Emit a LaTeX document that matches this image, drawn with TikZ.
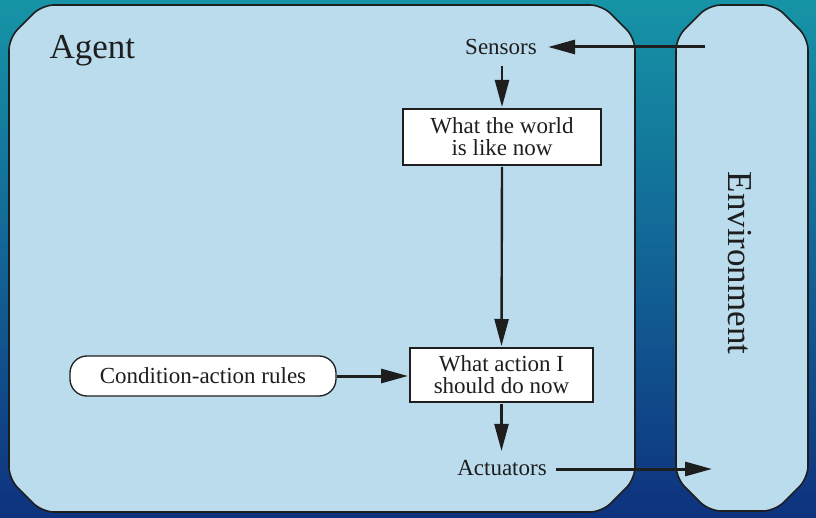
\documentclass[tikz,border=0pt]{standalone}
\usepackage{fontspec}
\setmainfont{Liberation Serif}
\usetikzlibrary{arrows.meta}
\definecolor{panel}{RGB}{187,220,236}
\definecolor{bgtop}{RGB}{22,148,166}
\definecolor{bgmid}{RGB}{18,100,150}
\definecolor{bgbot}{RGB}{14,50,126}
\definecolor{ink}{RGB}{30,30,30}
\tikzset{
  panelbox/.style={draw=ink, line width=1.6pt, fill=panel, rounded corners=12pt},
  procbox/.style={draw=ink, line width=1.3pt, fill=white, align=center, inner sep=0pt},
  rulebox/.style={draw=ink, line width=1.3pt, fill=white, rounded corners=17pt, inner sep=0pt},
  lbl/.style={text=ink, font=\rmfamily\fontsize{23}{23}\selectfont},
  big/.style={text=ink, font=\rmfamily\fontsize{35}{35}\selectfont},
  flow/.style={draw=ink, line width=2.4pt, -{Triangle[length=27pt,width=14pt]}},
  hflow/.style={flow, line width=3pt},
}
\begin{document}
\begin{tikzpicture}[x=1pt,y=-1pt]
\useasboundingbox (0,0) rectangle (816,518);
\shade[top color=bgtop, bottom color=bgbot, middle color=bgmid] (0,0) rectangle (816,518);
% Agent panel
\path[panelbox] (9,38) -- (42,5) -- (602,5) -- (635,38) -- (635,479) -- (602,512) -- (42,512) -- (9,479) -- cycle;
% Environment panel
\path[panelbox] (676,38) -- (709,5) -- (775,5) -- (808,38) -- (808,478) -- (775,511) -- (709,511) -- (676,478) -- cycle;
\node[big, anchor=west] (agent) at (46,51) {Agent};
\node[big, rotate=-90] (env) at (740,263) {Environment};
\coordinate (envin) at (705,47);
\coordinate (envout) at (712,469);
\node[lbl, outer sep=8pt] (sensors) at (501,47) {Sensors};
\node[lbl, outer sep=6pt] (actuators) at (502,468) {Actuators};
\node[procbox, lbl, minimum width=198pt, minimum height=56pt, outer sep=2pt] (world) at (502,137) {What the world\\[-1pt]is like now};
\node[procbox, lbl, minimum width=183pt, minimum height=54pt, outer sep=2pt] (action) at (501.5,375) {What action I\\[-1pt]should do now};
\node[rulebox, lbl, minimum width=266pt, minimum height=40pt] (rules) at (203,376) {Condition-action rules};
\draw[hflow] (envin) -- (envin -| sensors.east);
\draw[flow] (sensors.south -| world.north) -- (world.north);
\draw[flow] (world.south) -- (action.north);
\draw[hflow] (rules.east) -- (rules.east -| action.west);
\draw[flow] (action.south) -- (actuators.north -| action.south);
\draw[hflow] (actuators.east |- envout) -- (envout);
\end{tikzpicture}
\end{document}
